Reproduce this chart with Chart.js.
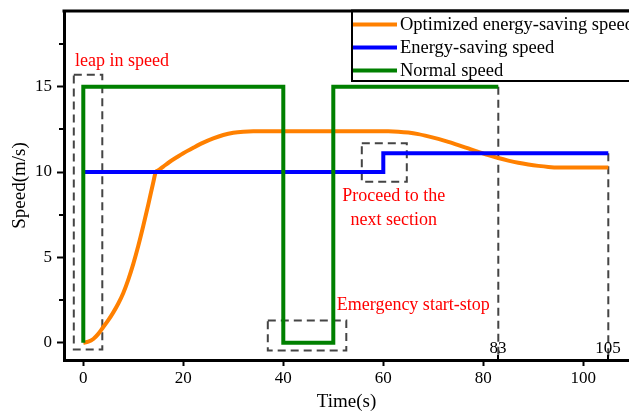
<!DOCTYPE html>
<html>
<head>
<meta charset="utf-8">
<script src="https://cdn.jsdelivr.net/npm/chart.js@4.4.1/dist/chart.umd.min.js"></script>
<style>
  html, body { margin: 0; padding: 0; background: #fff; }
  #wrap { width: 629px; height: 413px; }
</style>
</head>
<body>
<div id="wrap"><canvas id="speedChart"></canvas></div>
<script>
// series
var optX = [0, 1, 2, 3, 4, 5, 6, 7, 8, 9, 10, 11, 12, 13, 14, 14.5, 15, 16, 17.3, 19, 20, 22, 24, 26, 28, 30, 32, 34, 61,
            63, 65, 67, 69, 71, 73, 75, 77, 79, 81, 83, 85, 87, 89, 91, 93, 95, 105];
var optY = [0, 0.06, 0.22, 0.52, 0.92, 1.32, 1.78, 2.3, 2.92, 3.7, 4.62, 5.68, 6.85, 8.1, 9.4, 10, 10.1, 10.32, 10.6, 10.92, 11.1, 11.42, 11.72, 11.97, 12.17, 12.3, 12.36, 12.38, 12.38,
            12.36, 12.31, 12.22, 12.09, 11.94, 11.77, 11.58, 11.38, 11.18, 10.99, 10.82, 10.67, 10.54, 10.44, 10.36, 10.3, 10.27, 10.27];
var esX = [0, 60, 60, 105];
var esY = [10, 10, 11.1, 11.1];
var normX = [0, 0, 40, 40, 50, 50, 83];
var normY = [0, 15, 15, 0, 0, 15, 15];

var seriesNames = ['Optimized energy-saving speed', 'Energy-saving speed', 'Normal speed'];
var seriesColors = ['#ff8000', '#0000ff', '#008000'];

var xTicks = [0, 20, 40, 60, 80, 100];
var yTicks = [0, 5, 10, 15];
var yMinorTicks = [2.5, 7.5, 12.5, 17.5];
var markTicks = [83, 105];

// dashed guide boxes / lines (data units)
var leapBoxX = [-1.9, 3.8, 3.8, -1.9, -1.9];
var leapBoxY = [15.7, 15.7, -0.4, -0.4, 15.7];
var stopBoxX = [36.9, 52.6, 52.6, 36.9, 36.9];
var stopBoxY = [1.3, 1.3, -0.45, -0.45, 1.3];
var nextBoxX = [55.7, 64.7, 64.7, 55.7, 55.7];
var nextBoxY = [11.68, 11.68, 9.43, 9.43, 11.68];
var end1X = [83, 83];
var end1Y = [15, -1];
var end2X = [105, 105];
var end2Y = [11.1, -1];

var notes = [
  { text: ['leap in speed'], x: -1.65, y: 16.48, align: 'left' },
  { text: ['Proceed to the', 'next section'], x: 62.1, y: 8.6, align: 'center' },
  { text: ['Emergency start-stop'], x: 66.0, y: 2.2, align: 'center' }
];

function pts(xs, ys) {
  return xs.map(function (x, i) { return { x: x, y: ys[i] }; });
}

function guide(xs, ys) {
  return {
    label: '', data: pts(xs, ys), borderColor: '#444444', borderWidth: 2,
    borderDash: [8, 5], pointRadius: 0, fill: false, order: 5
  };
}

var serif = "'Liberation Serif', 'DejaVu Serif', serif";

var extras = {
  id: 'extras',
  afterDatasetsDraw: function (chart) {
    var ctx = chart.ctx, a = chart.chartArea;
    var xs = chart.scales.x, ys = chart.scales.y;
    ctx.save();
    // top frame line
    ctx.strokeStyle = '#000';
    ctx.lineWidth = 3;
    ctx.beginPath();
    ctx.moveTo(a.left - 1.5, a.top);
    ctx.lineTo(a.right + 2, a.top);
    ctx.stroke();

    // minor y ticks
    ctx.lineWidth = 2;
    yMinorTicks.forEach(function (v) {
      var py = Math.round(ys.getPixelForValue(v));
      ctx.beginPath();
      ctx.moveTo(a.left - 5, py);
      ctx.lineTo(a.left, py);
      ctx.stroke();
    });

    // 83 / 105 marks
    ctx.fillStyle = '#000';
    ctx.font = '17px ' + serif;
    ctx.textAlign = 'center';
    ctx.textBaseline = 'middle';
    markTicks.forEach(function (v) {
      var px = Math.round(xs.getPixelForValue(v));
      ctx.beginPath();
      ctx.moveTo(px, a.bottom);
      ctx.lineTo(px, a.bottom - 5);
      ctx.stroke();
      ctx.fillText(String(v), px, a.bottom - 11);
    });

    // red notes
    ctx.fillStyle = '#ff0000';
    ctx.font = '18px ' + serif;
    notes.forEach(function (n) {
      var px = xs.getPixelForValue(n.x);
      var py = ys.getPixelForValue(n.y);
      ctx.textAlign = n.align;
      n.text.forEach(function (t, i) {
        ctx.fillText(t, px, py + i * 24);
      });
    });

    // legend box
    var lx = 352, ly = a.top, lh = 70;
    ctx.fillStyle = '#fff';
    ctx.fillRect(lx, ly, chart.width - lx + 5, lh);
    ctx.strokeStyle = '#000';
    ctx.lineWidth = 2;
    ctx.strokeRect(lx, ly, chart.width - lx + 10, lh);
    ctx.lineWidth = 3;
    ctx.beginPath();
    ctx.moveTo(lx - 1, a.top);
    ctx.lineTo(chart.width, a.top);
    ctx.stroke();
    ctx.font = '18.5px ' + serif;
    ctx.textAlign = 'left';
    ctx.textBaseline = 'middle';
    seriesNames.forEach(function (name, i) {
      var cy = 24.5 + i * 23;
      ctx.strokeStyle = seriesColors[i];
      ctx.lineWidth = 4;
      ctx.beginPath();
      ctx.moveTo(353, cy);
      ctx.lineTo(397, cy);
      ctx.stroke();
      ctx.fillStyle = '#000';
      ctx.fillText(name, 400, cy + 1);
    });
    ctx.restore();
  }
};

Chart.defaults.font.family = serif;
Chart.defaults.color = '#000';

new Chart(document.getElementById('speedChart'), {
  type: 'line',
  data: {
    datasets: [
      { label: seriesNames[0], data: pts(optX, optY), borderColor: seriesColors[0], borderWidth: 4,
        pointRadius: 0, cubicInterpolationMode: 'monotone', fill: false, order: 3 },
      { label: seriesNames[1], data: pts(esX, esY), borderColor: seriesColors[1], borderWidth: 4,
        pointRadius: 0, fill: false, order: 2 },
      { label: seriesNames[2], data: pts(normX, normY), borderColor: seriesColors[2], borderWidth: 4,
        pointRadius: 0, fill: false, borderJoinStyle: 'miter', order: 1 },
      guide(leapBoxX, leapBoxY),
      guide(stopBoxX, stopBoxY),
      guide(nextBoxX, nextBoxY),
      guide(end1X, end1Y),
      guide(end2X, end2Y)
    ]
  },
  options: {
    responsive: true,
    maintainAspectRatio: false,
    animation: false,
    layout: { padding: { top: 11, right: 0, left: 0, bottom: 0 } },
    plugins: {
      legend: { display: false },
      tooltip: { enabled: false }
    },
    scales: {
      x: {
        type: 'linear',
        min: -3.86,
        max: 109.14,
        afterBuildTicks: function (s) { s.ticks = xTicks.map(function (v) { return { value: v }; }); },
        afterFit: function (s) { s.height = 53; s.paddingLeft = 0; s.paddingRight = 0; },
        grid: { drawOnChartArea: false, drawTicks: true, tickLength: 6, tickWidth: 2, tickColor: '#000' },
        border: { display: true, color: '#000', width: 3 },
        ticks: { font: { size: 17 }, padding: 2, maxRotation: 0, color: '#000' },
        title: { display: true, text: 'Time(s)', font: { size: 19 }, padding: { top: 0, bottom: 0 }, color: '#000' }
      },
      y: {
        type: 'linear',
        min: -1.01,
        max: 19.43,
        afterBuildTicks: function (s) { s.ticks = yTicks.map(function (v) { return { value: v }; }); },
        afterFit: function (s) { s.width = 64; s.paddingTop = 0; s.paddingBottom = 0; },
        grid: { drawOnChartArea: false, drawTicks: true, tickLength: 7, tickWidth: 2, tickColor: '#000' },
        border: { display: true, color: '#000', width: 3 },
        ticks: { font: { size: 17 }, padding: 5, color: '#000' },
        title: { display: true, text: 'Speed(m/s)', font: { size: 19 }, padding: { top: 9, bottom: 0 }, color: '#000' }
      }
    }
  },
  plugins: [extras]
});
</script>
</body>
</html>
